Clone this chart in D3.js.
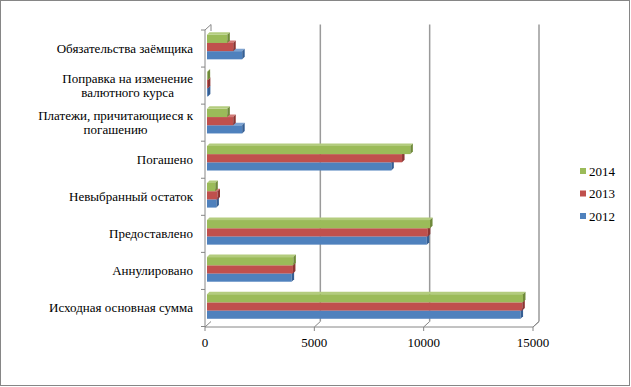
<!DOCTYPE html>
<html>
<head>
<meta charset="utf-8">
<script src="https://cdn.jsdelivr.net/npm/d3@7"></script>
<style>
  body { margin: 0; background: #fff; }
</style>
</head>
<body>
<div id="chart"></div>
<script>
// categories top to bottom, each label split into lines
var categories = [
  ["Обязательства заёмщика"],
  ["Поправка на изменение", "валютного курса"],
  ["Платежи, причитающиеся к", "погашению"],
  ["Погашено"],
  ["Невыбранный остаток"],
  ["Предоставлено"],
  ["Аннулировано"],
  ["Исходная основная сумма"]
];
var seriesNames = ["2014", "2013", "2012"];
var values2014 = [930, 30, 930, 9300, 380, 10200, 3950, 14450];
var values2013 = [1200, 40, 1200, 8920, 480, 10100, 3930, 14420];
var values2012 = [1610, 40, 1610, 8430, 430, 10050, 3870, 14340];
var xTicks = [0, 5000, 10000, 15000];

var svgWidth = 631, svgHeight = 387;
var depthX = 6, depthY = 5.5;   // wall depth offset
var barD = 2.5;                 // bar 3d depth

var svg = d3.select("#chart").append("svg")
  .attr("width", svgWidth)
  .attr("height", svgHeight)
  .attr("font-family", "'Liberation Serif', 'Times New Roman', 'DejaVu Serif', serif")
  .attr("font-size", 13);

// outer border
svg.append("rect")
  .attr("x", 0.5).attr("y", 0.5)
  .attr("width", svgWidth - 2).attr("height", svgHeight - 2)
  .attr("fill", "#fff")
  .attr("stroke", "#868686");

var floorY = 327, topY = 30;

var xScale = d3.scaleLinear().domain([0, 15000]).range([205, 533]);
var yScale = d3.scaleBand()
  .domain(d3.range(categories.length))
  .range([topY, floorY - 0.5])
  .padding(0);
var ySub = d3.scaleBand()
  .domain(seriesNames)
  .range([0, yScale.bandwidth()])
  .paddingOuter(0.76);

var colors = {
  "2014": { front: "#9bbb59", top: "#b3cc7e", side: "#6f8a3a" },
  "2013": { front: "#c0504d", top: "#d27a77", side: "#8c3533" },
  "2012": { front: "#4f81bd", top: "#7ea3d1", side: "#355f94" }
};

var grid = svg.append("g");
// back wall gridlines
grid.selectAll("line.grid")
  .data(xTicks.slice(1))
  .enter().append("line")
  .attr("x1", d => xScale(d) + depthX)
  .attr("x2", d => xScale(d) + depthX)
  .attr("y1", topY - depthY)
  .attr("y2", floorY - depthY)
  .attr("stroke", "#9a9a9a")
  .attr("stroke-width", 1.5);

// floor
grid.append("path")
  .attr("d", `M${xScale(0)},${floorY}L${xScale(15000)},${floorY}L${xScale(15000) + depthX},${floorY - depthY}`)
  .attr("fill", "none").attr("stroke", "#868686");
grid.selectAll("path.ftick")
  .data(xTicks)
  .enter().append("path")
  .attr("d", d => `M${xScale(d)},${floorY + 4}L${xScale(d)},${floorY}L${xScale(d) + depthX},${floorY - depthY}`)
  .attr("fill", "none").attr("stroke", "#868686");

// left wall
grid.append("path")
  .attr("d", `M${xScale(0)},${floorY}L${xScale(0)},${topY}L${xScale(0) + depthX},${topY - depthY}L${xScale(0) + depthX},${topY + 1}`)
  .attr("fill", "none").attr("stroke", "#868686");
grid.selectAll("line.ltick")
  .data(d3.range(categories.length + 1))
  .enter().append("line")
  .attr("x1", xScale(0) - 4).attr("x2", xScale(0))
  .attr("y1", d => d < categories.length ? yScale(d) : floorY - 0.5)
  .attr("y2", d => d < categories.length ? yScale(d) : floorY - 0.5)
  .attr("stroke", "#868686");

// bars: draw bottom series first so upper bars cover top faces
var allValues = { "2014": values2014, "2013": values2013, "2012": values2012 };
var barData = [];
categories.forEach(function(c, i) {
  ["2012", "2013", "2014"].forEach(function(s) {
    barData.push({ cat: i, series: s, value: allValues[s][i] });
  });
});

var bars = svg.append("g").selectAll("g")
  .data(barData)
  .enter().append("g");

var bx0 = d => xScale(0) + 2;
var bx1 = d => xScale(d.value) + 2;
var by0 = d => yScale(d.cat) + ySub(d.series) - 1.5;
var bh = ySub.bandwidth();

bars.append("rect")
  .attr("x", bx0)
  .attr("y", by0)
  .attr("width", d => bx1(d) - bx0(d))
  .attr("height", bh)
  .attr("fill", d => colors[d.series].front);

bars.append("path")
  .attr("d", d => `M${bx0(d)},${by0(d)}L${bx0(d) + barD},${by0(d) - barD}L${bx1(d) + barD},${by0(d) - barD}L${bx1(d)},${by0(d)}Z`)
  .attr("fill", d => colors[d.series].top);

bars.append("path")
  .attr("d", d => `M${bx1(d)},${by0(d)}L${bx1(d) + barD},${by0(d) - barD}L${bx1(d) + barD},${by0(d) + bh - barD}L${bx1(d)},${by0(d) + bh}Z`)
  .attr("fill", d => colors[d.series].side);

// category labels
var labels = svg.append("g").selectAll("text")
  .data(categories)
  .enter().append("text")
  .attr("text-anchor", "middle");
labels.each(function(lines, i) {
  var t = d3.select(this);
  var cy = yScale(i) + yScale.bandwidth() / 2;
  lines.forEach(function(line, j) {
    t.append("tspan")
      .attr("y", cy + 4.5 + (j - (lines.length - 1) / 2) * 14)
      .text(line);
  });
  var maxW = d3.max(t.selectAll("tspan").nodes(), n => n.getComputedTextLength());
  t.selectAll("tspan").attr("x", 193 - maxW / 2);
});

// x tick labels
svg.append("g").selectAll("text")
  .data(xTicks)
  .enter().append("text")
  .attr("x", d => xScale(d))
  .attr("y", 347)
  .attr("text-anchor", "middle")
  .text(d => d);

// legend
var legendY = [171, 193.5, 216];
var legend = svg.append("g").selectAll("g")
  .data(seriesNames)
  .enter().append("g")
  .attr("transform", (d, i) => `translate(580, ${legendY[i]})`);
legend.append("rect")
  .attr("x", 0).attr("y", -3)
  .attr("width", 6).attr("height", 6)
  .attr("fill", d => colors[d].front);
legend.append("text")
  .attr("x", 9).attr("y", 4.5)
  .text(d => d);
</script>
</body>
</html>
